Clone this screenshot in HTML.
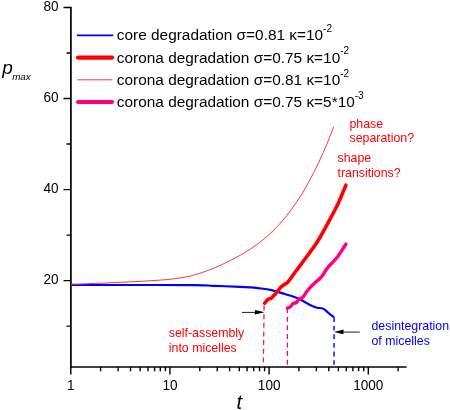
<!DOCTYPE html>
<html><head><meta charset="utf-8">
<style>
html,body{margin:0;padding:0;background:#fff;}
body{width:450px;height:410px;overflow:hidden;}
svg{display:block;will-change:transform;}
text{font-family:"Liberation Sans",sans-serif;}
.ax{font-size:13.6px;fill:#000;}
.lg{font-size:15.4px;fill:#000;}
.an{font-size:12.35px;}
</style></head><body>
<svg width="450" height="410" viewBox="0 0 450 410">
<!-- axes -->
<path d="M70.9,6.8V367.9" stroke="#000" stroke-width="1.7" fill="none"/>
<path d="M70.05,367H406.6" stroke="#000" stroke-width="1.6" fill="none"/>
<path d="M63.5,280.6H70.8M63.5,189.6H70.8M63.5,98.5H70.8M63.5,7.5H70.8M66.5,326.1H70.8M66.5,235.1H70.8M66.5,144.0H70.8M66.5,53.0H70.8" stroke="#000" stroke-width="1.4" fill="none"/>
<path d="M70.8,367.0V374.5M100.6,367.0V371.2M118.1,367.0V371.2M130.5,367.0V371.2M140.1,367.0V371.2M148.0,367.0V371.2M154.6,367.0V371.2M160.3,367.0V371.2M165.4,367.0V371.2M169.9,367.0V374.5M199.8,367.0V371.2M217.3,367.0V371.2M229.6,367.0V371.2M239.3,367.0V371.2M247.1,367.0V371.2M253.7,367.0V371.2M259.5,367.0V371.2M264.6,367.0V371.2M269.1,367.0V374.5M298.9,367.0V371.2M316.4,367.0V371.2M328.8,367.0V371.2M338.4,367.0V371.2M346.3,367.0V371.2M352.9,367.0V371.2M358.6,367.0V371.2M363.7,367.0V371.2M368.3,367.0V374.5M398.1,367.0V371.2" stroke="#000" stroke-width="1.4" fill="none"/>
<!-- axis labels -->
<g class="ax" text-anchor="end" transform="scale(1,1.09)">
<text x="58.6" y="10.18">80</text>
<text x="58.6" y="93.67">60</text>
<text x="58.6" y="177.25">40</text>
<text x="58.6" y="260.83">20</text>
</g>
<g class="ax" text-anchor="middle" transform="scale(1,1.09)">
<text x="70.8" y="357.61">1</text>
<text x="170" y="357.61">10</text>
<text x="269.2" y="357.61">100</text>
<text x="368.3" y="357.61">1000</text>
</g>
<text x="2.2" y="73.6" font-size="19" font-style="italic">p</text>
<text x="12.2" y="79.8" font-size="9.8" font-style="italic">max</text>
<text x="236.5" y="408.8" font-size="20" font-style="italic">t</text>
<!-- curves -->
<path d="M71.0,284.9 C79.2,284.9 99.3,285.0 120.0,285.0 C140.7,285.0 179.5,285.0 195.0,285.1 C210.5,285.2 205.5,285.5 213.0,285.8 C220.5,286.1 233.8,286.5 240.0,286.8 C246.2,287.1 247.5,287.2 250.5,287.4 C253.5,287.6 254.5,287.7 258.0,288.1 C261.5,288.6 266.9,289.1 271.3,290.1 C275.8,291.1 280.8,292.8 284.7,294.0 C288.6,295.2 292.4,296.3 295.0,297.2 C297.6,298.1 298.8,298.6 300.6,299.5 C302.5,300.4 304.2,301.8 306.1,302.8 C308.0,303.8 309.9,304.9 311.7,305.7 C313.5,306.5 315.5,307.3 317.2,307.7 C318.9,308.1 320.4,307.9 321.7,308.3 C323.0,308.7 323.9,309.1 325.0,309.8 C326.1,310.6 326.8,311.6 328.3,312.8 C329.8,314.0 333.1,316.5 334.0,317.2" stroke="#0000ff" stroke-width="2.2" fill="none" stroke-linejoin="round"/>
<path d="M71.0,284.8 C72.3,284.7 76.3,284.5 79.0,284.3 C81.7,284.1 84.3,284.0 87.0,283.8 C89.7,283.7 92.3,283.6 95.0,283.4 C97.7,283.3 100.3,283.2 103.0,283.1 C105.7,282.9 108.3,282.8 111.0,282.7 C113.7,282.6 116.3,282.5 119.0,282.4 C121.7,282.2 124.3,282.1 127.0,282.0 C129.7,281.9 132.3,281.8 135.0,281.6 C137.7,281.5 140.3,281.3 143.0,281.2 C145.7,281.1 148.3,280.9 151.0,280.7 C153.7,280.6 156.3,280.4 159.0,280.2 C161.7,280.0 164.3,279.8 167.0,279.6 C169.7,279.3 172.3,279.1 175.0,278.7 C177.7,278.4 180.3,278.0 183.0,277.5 C185.7,277.0 188.3,276.5 191.0,275.8 C193.7,275.1 196.3,274.4 199.0,273.6 C201.7,272.7 204.3,271.8 207.0,270.8 C209.7,269.8 212.3,268.8 215.0,267.6 C217.7,266.5 220.3,265.3 223.0,264.1 C225.7,262.8 228.3,261.5 231.0,260.1 C233.7,258.8 236.3,257.4 239.0,255.9 C241.7,254.4 244.3,252.9 247.0,251.2 C249.7,249.5 252.3,247.8 255.0,245.9 C257.7,244.0 260.3,242.0 263.0,239.8 C265.7,237.6 268.3,235.3 271.0,232.8 C273.7,230.2 276.3,227.5 279.0,224.6 C281.7,221.7 284.3,218.6 287.0,215.2 C289.7,211.9 292.3,208.3 295.0,204.4 C297.7,200.5 300.3,196.4 303.0,192.0 C305.7,187.6 308.3,182.9 311.0,177.8 C313.7,172.8 316.3,167.5 319.0,161.8 C321.7,156.1 324.5,149.5 327.0,143.7 C329.5,137.8 332.7,129.4 333.8,126.5" stroke="#ff2020" stroke-width="0.9" fill="none" stroke-linejoin="round"/>
<path d="M264.7,303.2 C265.0,302.8 266.0,301.4 266.7,300.7 C267.4,300.0 267.9,299.2 268.7,298.8 C269.5,298.4 270.5,298.8 271.3,298.3 C272.1,297.8 272.6,296.7 273.3,296.0 C274.0,295.3 274.5,294.9 275.3,294.0 C276.1,293.1 277.1,291.8 278.0,290.7 C278.9,289.6 279.7,288.3 280.7,287.3 C281.7,286.3 282.9,285.5 284.0,284.7 C285.1,283.9 286.3,283.5 287.3,282.6 C288.3,281.7 289.0,280.6 290.0,279.3 C291.0,278.0 292.2,276.2 293.3,274.7 C294.4,273.1 294.9,272.4 296.7,270.0 C298.5,267.6 300.5,265.1 304.0,260.3 C307.5,255.6 313.1,248.4 317.5,241.5 C321.9,234.6 326.9,224.9 330.3,218.7 C333.7,212.4 335.3,209.6 337.9,204.0 C340.5,198.4 344.6,188.3 345.9,185.2" stroke="#ff0000" stroke-width="3.6" fill="none" stroke-linejoin="round" stroke-linecap="round"/>
<path d="M287.4,308.0 C287.8,307.9 289.2,307.6 290.0,307.1 C290.8,306.6 291.4,305.5 292.0,304.9 C292.6,304.2 292.6,303.5 293.3,303.2 C294.0,302.9 295.2,303.3 296.0,302.8 C296.8,302.3 297.3,301.1 298.0,300.4 C298.7,299.7 299.3,298.8 300.0,298.4 C300.7,298.0 301.5,298.2 302.2,297.8 C302.9,297.4 303.4,296.7 304.0,295.8 C304.6,294.9 305.3,293.5 306.1,292.4 C306.9,291.3 307.8,290.2 308.7,289.2 C309.6,288.1 310.5,287.2 311.5,286.1 C312.5,285.1 313.7,283.8 314.7,282.9 C315.7,282.0 316.3,281.7 317.5,280.6 C318.7,279.5 320.5,277.9 321.8,276.4 C323.1,274.9 324.0,273.0 325.1,271.4 C326.2,269.8 327.1,268.3 328.5,266.7 C329.9,265.1 331.6,263.5 333.2,261.8 C334.8,260.1 336.4,258.2 337.9,256.3 C339.3,254.4 340.6,252.4 341.9,250.4 C343.2,248.4 345.2,245.2 345.9,244.1" stroke="#ff0080" stroke-width="3.4" fill="none" stroke-linejoin="round" stroke-linecap="round"/>
<!-- dashed lines -->
<path d="M264.1,305.5L263.35,362.3" stroke="#ff2020" stroke-width="1.3" stroke-dasharray="5,3.65" fill="none"/>
<path d="M287.4,308.1V364.7" stroke="#ff0080" stroke-width="1.3" stroke-dasharray="5,3.6" fill="none"/>
<path d="M334.05,317V364.8" stroke="#0000ff" stroke-width="1.4" stroke-dasharray="4.9,3.75" fill="none"/>
<!-- arrows -->
<path d="M242,312.4H256" stroke="#000" stroke-width="0.9" fill="none"/>
<path d="M264.7,312.3L254.9,310V314.6Z" fill="#000"/>
<path d="M359.8,332.1H343" stroke="#000" stroke-width="0.9" fill="none"/>
<path d="M333.9,331.9L343.5,329.6V334.2Z" fill="#000"/>
<!-- legend -->
<path d="M76.8,35.4H113.3" stroke="#0000ff" stroke-width="1.9"/>
<path d="M78,57.6H112.1" stroke="#ff0000" stroke-width="4.2" stroke-linecap="round"/>
<path d="M77.2,79.8H112.4" stroke="#ff2020" stroke-width="0.9"/>
<path d="M78,102.1H112.1" stroke="#ff0080" stroke-width="4" stroke-linecap="round"/>
<g class="lg">
<text x="116.8" y="40.4">core degradation σ=0.81 κ=10<tspan font-size="10" dy="-8.3">-2</tspan></text>
<text x="116.8" y="62.6">corona degradation σ=0.75 κ=10<tspan font-size="10" dy="-8.3">-2</tspan></text>
<text x="116.8" y="84.8">corona degradation σ=0.81 κ=10<tspan font-size="10" dy="-8.3">-2</tspan></text>
<text x="116.8" y="107">corona degradation σ=0.75 κ=5*10<tspan font-size="10" dy="-8.3">-3</tspan></text>
</g>
<!-- annotations -->
<g class="an" fill="#ff0000">
<text x="349.5" y="127.5">phase</text>
<text x="349.5" y="142.2">separation?</text>
<text x="337.5" y="161.9">shape</text>
<text x="337.5" y="176.6">transitions?</text>
<text x="168.8" y="337.2">self-assembly</text>
<text x="168.8" y="351.9">into micelles</text>
</g>
<g class="an" fill="#0000ff">
<text x="371.5" y="330.0">desintegration</text>
<text x="371.5" y="344.7">of micelles</text>
</g>
</svg>
</body></html>
